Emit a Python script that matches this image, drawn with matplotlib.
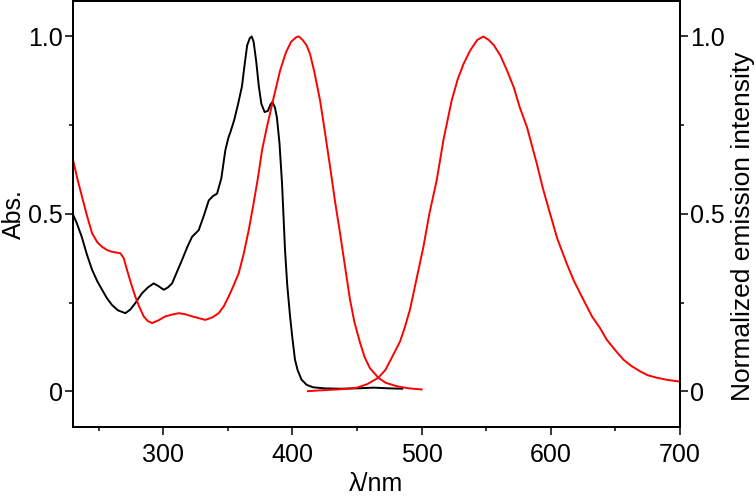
import numpy as np
import matplotlib
matplotlib.use("Agg")
import matplotlib.pyplot as plt
from matplotlib.ticker import MultipleLocator

plt.rcParams['font.family'] = ['Liberation Sans', 'DejaVu Sans']

# absorption (black, left axis)
abs_wl = [230, 233, 237, 241, 245, 249, 252.7, 256.5, 260.4, 265, 270.7, 274.5, 278.4, 283.6,
          288, 292.7, 296.5, 300.4, 303.5, 306.9, 310.5, 314.6, 318.5, 322.3, 327.5, 331.5,
          335.3, 338.5, 341.7, 345, 348.1, 350.5, 352, 355, 358, 361, 363, 365, 367, 368.5,
          370, 372, 374, 376, 378.5, 381, 383, 384.5, 386.5, 388, 390, 392, 394.3, 396,
          398.2, 400, 402, 404, 407, 411, 416, 425, 437, 450, 463, 475, 485]
abs_val = [0.50, 0.475, 0.435, 0.385, 0.342, 0.310, 0.286, 0.262, 0.243, 0.228, 0.220, 0.230,
           0.248, 0.276, 0.292, 0.304, 0.296, 0.286, 0.292, 0.304, 0.335, 0.370, 0.405, 0.435,
           0.454, 0.495, 0.538, 0.550, 0.557, 0.600, 0.679, 0.715, 0.730, 0.765, 0.810, 0.860,
           0.920, 0.975, 0.995, 1.0, 0.985, 0.93, 0.86, 0.81, 0.787, 0.790, 0.808, 0.815,
           0.800, 0.772, 0.700, 0.585, 0.398, 0.300, 0.211, 0.150, 0.089, 0.060, 0.033, 0.018,
           0.011, 0.008, 0.007, 0.008, 0.010, 0.008, 0.007]

# red spectrum peaking near 403 nm (left axis)
exc_wl = [230, 233.5, 237.2, 241, 245, 249, 252.7, 256.5, 260.4, 263.5, 266.8, 269.5, 272,
          275, 278.4, 281.5, 284.9, 288, 291.4, 296.5, 301.7, 307, 312, 317, 322.3, 327.5,
          332.6, 338, 343, 347, 350.7, 354.5, 358.5, 362.5, 366.2, 370, 373.5, 376.5, 380,
          385, 390.5, 395, 399, 403, 405, 408, 411, 413.7, 417, 421.4, 425, 429.2, 433, 436.9,
          441, 444.6, 448, 452.4, 456, 460, 466.5, 472, 480.8, 490, 500]
exc_val = [0.656, 0.600, 0.548, 0.495, 0.445, 0.420, 0.407, 0.398, 0.393, 0.391, 0.389, 0.375,
           0.342, 0.305, 0.267, 0.238, 0.211, 0.198, 0.192, 0.200, 0.211, 0.216, 0.220, 0.217,
           0.211, 0.206, 0.201, 0.208, 0.220, 0.240, 0.267, 0.298, 0.333, 0.390, 0.454, 0.530,
           0.605, 0.679, 0.740, 0.820, 0.904, 0.955, 0.985, 0.998, 1.0, 0.99, 0.975, 0.950,
           0.900, 0.820, 0.735, 0.632, 0.535, 0.445, 0.345, 0.258, 0.195, 0.136, 0.095, 0.065,
           0.038, 0.024, 0.014, 0.008, 0.005]

# emission (red, right axis)
em_wl = [412, 420, 430, 440, 450, 458, 466.5, 472, 477, 483.3, 487, 491, 496, 501.4, 506,
         511.7, 517, 523.3, 528, 532.4, 537.5, 543, 547.8, 552, 556, 561, 566, 571.3, 576,
         581.6, 589.1, 594, 599.4, 605, 612.3, 618, 625.2, 632, 638.1, 643.3, 650, 656.2,
         662, 669.1, 675, 682, 690, 700]
em_val = [0.0, 0.002, 0.004, 0.006, 0.010, 0.020, 0.038, 0.060, 0.095, 0.140, 0.180, 0.230,
          0.315, 0.407, 0.500, 0.595, 0.710, 0.820, 0.880, 0.922, 0.960, 0.990, 1.0, 0.990,
          0.975, 0.946, 0.905, 0.857, 0.800, 0.744, 0.642, 0.570, 0.501, 0.430, 0.360, 0.310,
          0.258, 0.210, 0.178, 0.145, 0.115, 0.089, 0.072, 0.056, 0.045, 0.038, 0.032, 0.027]

fig = plt.figure(figsize=(7.56, 4.97), dpi=100)
ax = fig.add_axes([0.0962, 0.1415, 0.8033, 0.8565])
ax2 = ax.twinx()

ax.plot(abs_wl, abs_val, color="black", linewidth=1.4)
ax.plot(exc_wl, exc_val, color="#ff0000", linewidth=1.4)
ax2.plot(em_wl, em_val, color="#ff0000", linewidth=1.4)

for a in (ax, ax2):
    a.set_ylim(-0.1, 1.1)
    a.yaxis.set_major_locator(MultipleLocator(0.5))
    a.yaxis.set_minor_locator(MultipleLocator(0.25))
    a.tick_params(which="major", length=5.5, width=1.1, labelsize=18, direction="out")
    a.tick_params(which="minor", length=3, width=1.1, direction="out")
    for s in a.spines.values():
        s.set_linewidth(1.4)

ax.set_xlim(230, 700)
ax.xaxis.set_major_locator(MultipleLocator(100))
ax.xaxis.set_minor_locator(MultipleLocator(50))
ax.tick_params(axis="y", which="both", pad=1.5)
ax2.tick_params(axis="y", which="both", pad=2)
ax.tick_params(axis="x", which="major", pad=6)

fmt = lambda v, p: "0" if abs(v) < 1e-9 else f"{v:.1f}"
ax.yaxis.set_major_formatter(plt.FuncFormatter(fmt))
ax2.yaxis.set_major_formatter(plt.FuncFormatter(fmt))

ax.set_xlabel("λ/nm", fontsize=18, labelpad=4)
ax.set_ylabel("Abs.", fontsize=18, labelpad=2)
ax2.set_ylabel("Normalized emission intensity", fontsize=19)
ax2.yaxis.set_label_coords(1.084, 0.47)

fig.savefig("out.png", dpi=100)
